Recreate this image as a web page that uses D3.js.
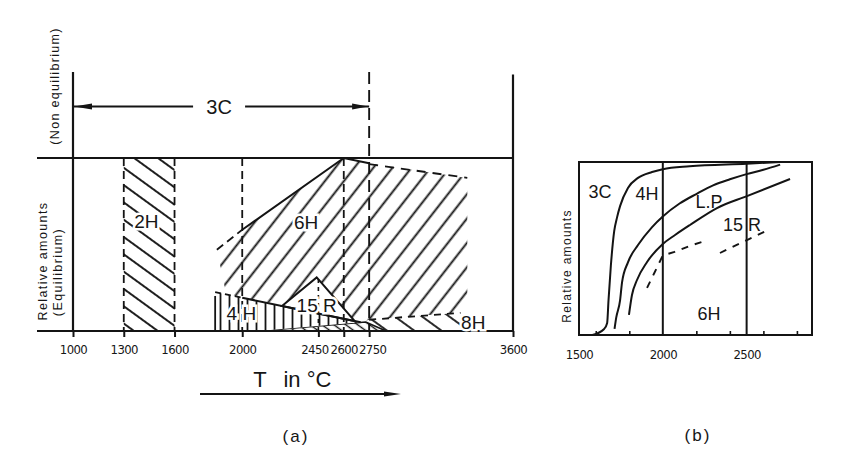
<!DOCTYPE html>
<html><head><meta charset="utf-8">
<script src="https://cdn.jsdelivr.net/npm/d3@7"></script>
<style>
body{margin:0;background:#fff}
svg{display:block}
text{font-family:"Liberation Sans",Arial,sans-serif;fill:#161616}
</style>
</head><body>
<svg id="c" width="858" height="456"></svg>
<script>
// ===== DATA: panel (a) =====
const aTickValues = [1000,1300,1600,2000,2450,2600,2750,3600];
const aDashedGuides = [1300,1600,2000,2600];
const aThreeCRange = [1000,2750];          // 3C, non-equilibrium
const a2HRange = [1300,1600];
const a6H = [[1850,0.47],[2000,0.585],[2600,1.0],[2750,0.97],[3330,0.885],[3330,0.11],[2750,0.065],[2700,0.05],[1905,0.215]];
const a6HSolid = [[2000,0.585],[2600,1.0],[2750,0.97]];
const a6HDashLeft = [[1850,0.47],[2000,0.585]];
const a6HDashRight = [[2750,0.965],[3330,0.885]];
const a4H = [[1840,0],[1840,0.225],[2700,0.05],[2100,0]];
const a4HTopDashed = [[1840,0.225],[2000,0.192]];
const a4HTopSolid = [[2000,0.192],[2700,0.05]];
const aSliver = [[2100,0],[2730,0.052],[2850,0]];
const a15R = [[2235,0.145],[2440,0.31],[2665,0.057]];
const a15RGuide = [[2450,0],[2450,0.3]];
const a8H = [[2750,0.065],[3290,0.105],[3330,0],[2750,0]];
const a8HDash = [[2750,0.065],[3290,0.105]];
const aLabels = [
  {t:"2H",  x:1433, y:0.636},
  {t:"6H",  x:2378, y:0.63},
  {t:"15 R",x:2440, y:0.15},
  {t:"4 H", x:1995, y:0.104},
  {t:"8H",  x:3365, y:0.052}
];

// ===== DATA: panel (b) =====
const bTickLabels = [1500,2000,2500];
const bMinorTicks = [1600,1800,2200,2400,2600,2800];
const bGridLines = [2000,2500];
const bCurve3C4H = [[1580,0],[1650,0.035],[1668,0.07],[1676,0.2],[1690,0.4],[1710,0.6],[1727,0.68],[1745,0.745],[1792,0.85],[1852,0.908],[1936,0.942],[2000,0.958],[2160,0.975],[2500,0.99],[2700,1.0]];
const bCurve4HLP = [[1712,0.035],[1722,0.1],[1745,0.2],[1757,0.306],[1792,0.42],[1852,0.52],[1936,0.624],[2000,0.685],[2100,0.76],[2200,0.815],[2300,0.865],[2400,0.9],[2500,0.93],[2600,0.955],[2700,0.985]];
const bCurveLP15R = [[1798,0.116],[1816,0.231],[1846,0.318],[1906,0.422],[2000,0.526],[2073,0.578],[2162,0.636],[2323,0.734],[2502,0.803],[2759,0.902]];
const bDashA = [[1906,0.272],[1950,0.36],[1995,0.45],[2000,0.46],[2070,0.48],[2160,0.515],[2240,0.54]];
const bDashB = [[2341,0.474],[2502,0.549],[2640,0.613]];
const bLabels = [
  {t:"3C",  x:1625, y:0.827},
  {t:"4H",  x:1906, y:0.82},
  {t:"L.P", x:2276, y:0.77},
  {t:"15 R",x:2473, y:0.636},
  {t:"6H",  x:2276, y:0.127}
];

// ===== DRAW =====
const ink = "#141414";
const svg = d3.select("#c");
svg.append("rect").attr("width",858).attr("height",456).attr("fill","#fff");
const defs = svg.append("defs");
function hatch(id, angle, gap, sw){
  const p = defs.append("pattern").attr("id",id).attr("patternUnits","userSpaceOnUse")
    .attr("width",gap).attr("height",gap).attr("patternTransform",`rotate(${angle})`);
  p.append("line").attr("x1",gap/2).attr("y1",0).attr("x2",gap/2).attr("y2",gap)
    .attr("stroke",ink).attr("stroke-width",sw);
}
hatch("h2H",-54,14,1.9);
hatch("h6H",38,15,1.9);
hatch("h8H",-54,16,1.8);
hatch("hSl",-54,7,1.4);
hatch("h4H",0,9,1.8);

const narrow = "'Liberation Sans Narrow','DejaVu Sans Condensed',Arial,sans-serif";

// scales (a)
const xA = d3.scaleLinear().domain([1000,3600]).range([73,513]);
const yA = d3.scaleLinear().domain([0,1]).range([331,158]);
const yN = d3.scaleLinear().domain([0,1]).range([158,72]);
const lineA = d3.line().x(d=>xA(d[0])).y(d=>yA(d[1]));
const gA = svg.append("g");

// hatched regions
gA.append("rect").attr("x",xA(a2HRange[0])).attr("y",yA(1)).attr("width",xA(a2HRange[1])-xA(a2HRange[0]))
  .attr("height",yA(0)-yA(1)).attr("fill","url(#h2H)");
gA.append("path").attr("d",lineA(a6H)+"Z").attr("fill","url(#h6H)");
gA.append("path").attr("d",lineA(a8H)+"Z").attr("fill","url(#h8H)");
gA.append("path").attr("d",lineA(aSliver)+"Z").attr("fill","url(#hSl)").attr("stroke",ink).attr("stroke-width",1.6);
gA.append("path").attr("d",lineA(a4H)+"Z").attr("fill","#fff");
gA.append("path").attr("d",lineA(a4H)+"Z").attr("fill","url(#h4H)");
gA.append("path").attr("d",lineA(a15R)+"Z").attr("fill","#fff").attr("stroke",ink).attr("stroke-width",2);

// boundaries
gA.append("path").attr("d",lineA(a6HSolid)).attr("fill","none").attr("stroke",ink).attr("stroke-width",2);
gA.append("path").attr("d",lineA(a6HDashLeft)).attr("fill","none").attr("stroke",ink).attr("stroke-width",1.8).attr("stroke-dasharray","8,5");
gA.append("path").attr("d",lineA(a6HDashRight)).attr("fill","none").attr("stroke",ink).attr("stroke-width",1.8).attr("stroke-dasharray","9,7");
gA.append("path").attr("d",lineA(a4HTopDashed)).attr("fill","none").attr("stroke",ink).attr("stroke-width",1.8).attr("stroke-dasharray","6,4");
gA.append("path").attr("d",lineA(a4HTopSolid)).attr("fill","none").attr("stroke",ink).attr("stroke-width",2);
gA.append("path").attr("d",lineA(a8HDash)).attr("fill","none").attr("stroke",ink).attr("stroke-width",1.8).attr("stroke-dasharray","7,6");
gA.append("path").attr("d",lineA([[a4H[0][0],0],[a4H[1][0],a4H[1][1]*0.9]])).attr("fill","none").attr("stroke",ink).attr("stroke-width",1.8);
gA.append("path").attr("d",lineA(a15RGuide)).attr("fill","none").attr("stroke",ink).attr("stroke-width",1.6).attr("stroke-dasharray","4,4");

// dashed guides
aDashedGuides.forEach(v=>{
  gA.append("line").attr("x1",xA(v)).attr("x2",xA(v)).attr("y1",yA(1)).attr("y2",yA(0))
    .attr("stroke",ink).attr("stroke-width",1.8).attr("stroke-dasharray","8,5");
});
gA.append("line").attr("x1",xA(aThreeCRange[1])).attr("x2",xA(aThreeCRange[1])).attr("y1",yN(1)).attr("y2",yA(0))
  .attr("stroke",ink).attr("stroke-width",1.9).attr("stroke-dasharray","12,6");

// frame lines
const left = xA(1000)-36;
gA.append("line").attr("x1",left).attr("x2",xA(3600)).attr("y1",yA(1)).attr("y2",yA(1)).attr("stroke",ink).attr("stroke-width",2.2);
gA.append("line").attr("x1",xA(1000)).attr("x2",xA(1000)).attr("y1",yN(1)).attr("y2",yA(0)).attr("stroke",ink).attr("stroke-width",2.2);
gA.append("line").attr("x1",xA(3600)).attr("x2",xA(3600)).attr("y1",yN(0.97)).attr("y2",yA(0)).attr("stroke",ink).attr("stroke-width",2.2);

// axis (a)
const axA = gA.append("g").attr("transform",`translate(0,${yA(0)})`)
  .call(d3.axisBottom(xA).tickValues(aTickValues).tickSize(6).tickPadding(8).tickFormat(d3.format("d")));
axA.select(".domain").remove();
gA.append("line").attr("x1",left).attr("x2",xA(3600)).attr("y1",yA(0)).attr("y2",yA(0)).attr("stroke",ink).attr("stroke-width",2.2);
axA.selectAll("line").attr("stroke",ink).attr("stroke-width",2);
axA.selectAll("text").attr("font-size",13).attr("letter-spacing",-0.6).attr("fill",ink).style("font-family",narrow)
  .attr("dx",d=>d===2450?-4:(d===2750?3:0));

// 3C arrow
const yArr = yN(0.6);
const x3a = xA(aThreeCRange[0]), x3b = xA(aThreeCRange[1]);
const xm = (x3a+x3b)/2 - 6;
gA.append("line").attr("x1",x3a).attr("x2",xm-22).attr("y1",yArr).attr("y2",yArr).attr("stroke",ink).attr("stroke-width",2);
gA.append("line").attr("x1",xm+30).attr("x2",x3b).attr("y1",yArr).attr("y2",yArr).attr("stroke",ink).attr("stroke-width",2);
gA.append("path").attr("d",`M${x3a+1},${yArr} L${x3a+19},${yArr-3} L${x3a+19},${yArr+3} Z`).attr("fill",ink);
gA.append("path").attr("d",`M${x3b-1},${yArr} L${x3b-17},${yArr-3} L${x3b-17},${yArr+3} Z`).attr("fill",ink);
gA.append("text").attr("x",xm+4).attr("y",yArr).attr("dy","0.36em").attr("text-anchor","middle").attr("font-size",20).text("3C");

// region labels (a)
gA.selectAll("text.lab").data(aLabels).join("text").attr("class","lab")
  .attr("x",d=>xA(d.x)).attr("y",d=>yA(d.y)).attr("dy","0.36em").attr("text-anchor","middle")
  .attr("font-size",19).attr("stroke","#fff").attr("stroke-width",5).attr("paint-order","stroke")
  .text(d=>d.t);

// rotated y labels (a)
function vtext(x,y,t,fs,ls){
  svg.append("text").attr("transform",`translate(${x},${y}) rotate(-90)`).attr("text-anchor","middle")
    .attr("dominant-baseline","central").attr("font-size",fs).attr("letter-spacing",ls).text(t);
}
vtext(55,86,"(Non equilibrium)",12.5,1.3);
vtext(43,261,"Relative amounts",12.5,1.4);
vtext(58,272,"(Equilibrium)",12.5,1.4);

// T in °C
svg.append("text").attr("x",260).attr("y",387).attr("text-anchor","middle").attr("font-size",22).text("T");
svg.append("text").attr("x",292).attr("y",387).attr("text-anchor","middle").attr("font-size",22).text("in");
svg.append("text").attr("x",319).attr("y",387).attr("text-anchor","middle").attr("font-size",22).text("°C");
svg.append("line").attr("x1",200).attr("x2",388).attr("y1",394).attr("y2",394).attr("stroke",ink).attr("stroke-width",1.8);
svg.append("path").attr("d","M401,394 L384,391.5 L384,396.5 Z").attr("fill",ink);
svg.append("text").attr("x",296).attr("y",442).attr("text-anchor","middle").attr("font-size",17).attr("letter-spacing",2).text("(a)");

// ===== panel (b) =====
const xB = d3.scaleLinear().domain([1500,2890]).range([579,812]);
const yB = d3.scaleLinear().domain([0,1]).range([335,162]);
const gB = svg.append("g");
gB.append("rect").attr("x",xB(1500)).attr("y",yB(1)).attr("width",xB(2890)-xB(1500)).attr("height",yB(0)-yB(1))
  .attr("fill","none").attr("stroke",ink).attr("stroke-width",2);
bGridLines.forEach(v=>{
  gB.append("line").attr("x1",xB(v)).attr("x2",xB(v)).attr("y1",yB(1)).attr("y2",yB(0)).attr("stroke",ink).attr("stroke-width",2);
});
const axBm = gB.append("g").attr("transform",`translate(0,${yB(0)})`)
  .call(d3.axisBottom(xB).tickValues(bMinorTicks).tickSize(-4).tickFormat(""));
axBm.select(".domain").remove();
axBm.selectAll("line").attr("stroke",ink).attr("stroke-width",1.6);
const axBl = gB.append("g").attr("transform",`translate(0,${yB(0)})`)
  .call(d3.axisBottom(xB).tickValues(bTickLabels).tickSize(0).tickPadding(15).tickFormat(d3.format("d")));
axBl.select(".domain").remove();
axBl.selectAll("text").attr("font-size",13).attr("letter-spacing",-0.6).attr("fill",ink).style("font-family",narrow);

const lineB = d3.line().x(d=>xB(d[0])).y(d=>yB(d[1])).curve(d3.curveMonotoneX);
const lineBL = d3.line().x(d=>xB(d[0])).y(d=>yB(d[1]));
[bCurve3C4H,bCurve4HLP,bCurveLP15R].forEach(c=>{
  gB.append("path").attr("d",lineB(c)).attr("fill","none").attr("stroke",ink).attr("stroke-width",2);
});
[bDashA,bDashB].forEach(c=>{
  gB.append("path").attr("d",lineBL(c)).attr("fill","none").attr("stroke",ink).attr("stroke-width",1.9).attr("stroke-dasharray","7,7");
});
gB.selectAll("text.lab").data(bLabels).join("text").attr("class","lab")
  .attr("x",d=>xB(d.x)).attr("y",d=>yB(d.y)).attr("dy","0.36em").attr("text-anchor","middle")
  .attr("font-size",18).text(d=>d.t);
vtext(567,266,"Relative amounts",12,1.3);
svg.append("text").attr("x",698).attr("y",441).attr("text-anchor","middle").attr("font-size",17).attr("letter-spacing",2).text("(b)");
</script>
</body></html>
